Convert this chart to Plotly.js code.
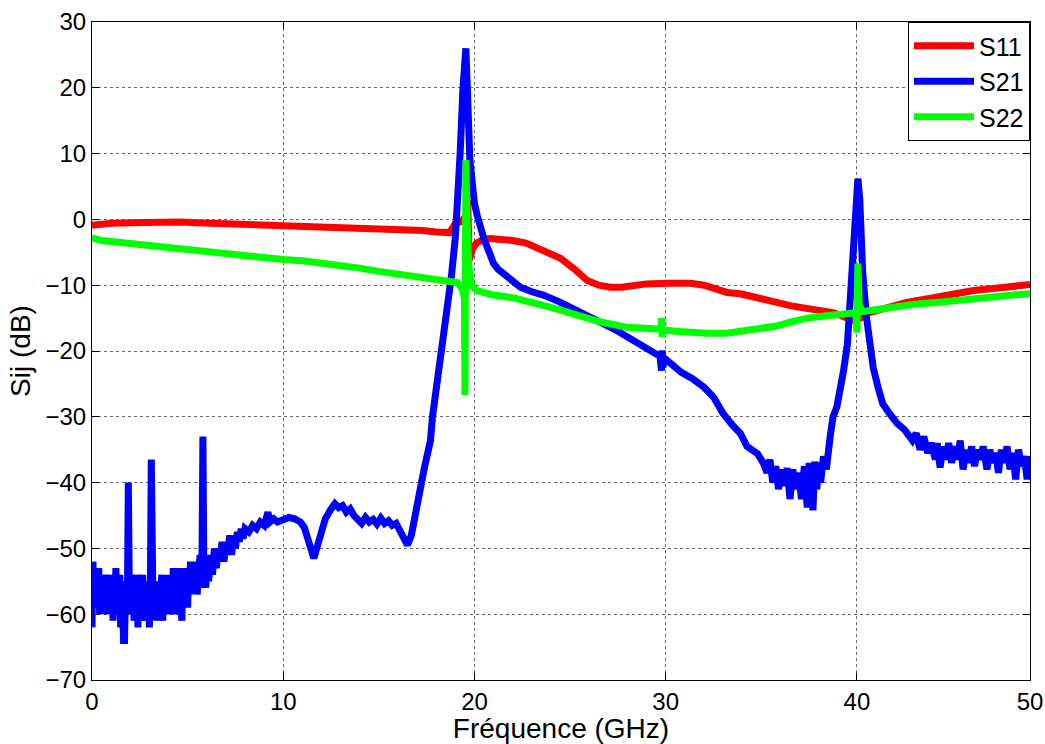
<!DOCTYPE html>
<html>
<head>
<meta charset="utf-8">
<script src="https://cdn.plot.ly/plotly-3.0.1.min.js"></script>
<style>html,body{margin:0;padding:0;background:#fff;}#chart{width:1045px;height:744px;}</style>
</head>
<body>
<div id="chart"></div>
<script>
// Frequencies (GHz) and magnitudes (dB)
const freqS11 = [0,0.5,1,2,3,4,4.6,5.5,6.5,7.5,8.5,10,11,12,13,14,15,16,17.3,18,18.7,19.0,19.3,19.55,19.65,19.72,19.9,20.1,20.5,20.8,21.5,22,22.7,23.5,24.5,25.2,25.9,26.5,27.1,27.7,28.3,29,30.1,31.3,32,33.2,33.9,35,35.8,36.5,37.2,38.1,38.8,39.5,39.9,40.2,40.5,41.5,42.6,44,45,46.1,47.5,48.5,49.05];
const s11 = [-0.9,-0.7,-0.6,-0.5,-0.4,-0.4,-0.4,-0.5,-0.6,-0.7,-0.8,-0.8,-0.9,-1.0,-1.2,-1.3,-1.4,-1.5,-1.7,-1.9,-2.0,-0.6,-0.3,0.5,2.9,-6.2,-4.5,-3.6,-3.0,-2.9,-3.0,-3.2,-3.6,-4.5,-5.9,-7.5,-9.3,-10.0,-10.3,-10.3,-10.0,-9.8,-9.7,-9.7,-10.0,-11.1,-11.3,-12.2,-12.6,-13.1,-13.4,-13.8,-14.2,-15.0,-15.4,-15.0,-14.3,-13.5,-12.6,-11.9,-11.3,-10.8,-10.4,-10.1,-9.9];

const freqS21 = [0,0.05,0.1,0.15,0.2,0.25,0.3,0.35,0.4,0.45,0.5,0.55,0.6,0.65,0.7,0.75,0.8,0.85,0.9,0.95,1.0,1.05,1.1,1.15,1.2,1.25,1.3,1.35,1.4,1.45,1.5,1.55,1.6,1.65,1.7,1.75,1.8,1.85,1.9,1.95,2.0,2.05,2.1,2.15,2.2,2.25,2.3,2.35,2.4,2.45,2.5,2.55,2.6,2.65,2.7,2.75,2.8,2.85,2.9,2.95,3.0,3.05,3.1,3.15,3.2,3.25,3.3,3.35,3.4,3.45,3.5,3.55,3.6,3.65,3.7,3.75,3.8,3.85,3.9,3.95,4.0,4.05,4.1,4.15,4.2,4.25,4.3,4.35,4.4,4.45,4.5,4.55,4.6,4.65,4.7,4.75,4.8,4.85,4.9,4.95,5.0,5.05,5.1,5.15,5.2,5.25,5.3,5.35,5.4,5.45,5.5,5.55,5.6,5.65,5.7,5.75,5.8,5.85,5.9,5.95,6.0,6.1,6.2,6.3,6.4,6.5,6.6,6.7,6.8,6.9,7.0,7.1,7.2,7.3,7.4,7.5,7.6,7.7,7.8,7.9,8.0,8.2,8.4,8.6,8.8,9.0,9.2,9.3,9.5,9.7,10.0,10.3,10.6,10.9,11.1,11.3,11.5,11.6,11.8,12.0,12.2,12.5,12.7,12.9,13.1,13.3,13.5,13.7,13.9,14.1,14.3,14.5,14.7,14.9,15.1,15.3,15.5,15.7,15.9,16.1,16.3,16.5,16.7,16.9,17.15,17.4,17.7,17.8,18.0,18.2,18.4,18.55,18.8,19.0,19.15,19.25,19.4,19.5,19.55,19.6,19.65,19.7,19.76,19.85,19.92,20.0,20.15,20.3,20.5,20.8,21.0,21.25,21.5,21.85,22.4,23.0,23.6,24.5,25.4,26.0,26.7,27.5,28.3,28.65,29.2,29.7,29.78,29.82,29.86,29.9,30.3,30.8,31.4,32.0,32.5,33.0,33.5,33.9,34.25,34.8,35.1,35.3,35.45,35.6,35.75,35.9,36.05,36.2,36.35,36.5,36.65,36.8,36.95,37.1,37.25,37.4,37.5,37.6,37.7,37.8,37.9,38.0,38.1,38.25,38.4,38.6,38.75,38.95,39.15,39.3,39.5,39.7,39.9,40.0,40.05,40.15,40.3,40.5,40.85,41.1,41.35,41.7,42.1,42.5,42.9,43.1,43.3,43.5,43.7,43.9,44.1,44.2,44.35,44.5,44.65,44.8,44.95,45.1,45.25,45.4,45.55,45.7,45.85,46.0,46.15,46.3,46.45,46.6,46.8,46.95,47.1,47.25,47.4,47.55,47.7,47.85,48.0,48.15,48.3,48.45,48.6,48.75,48.9,49.05];
const s21 = [-62,-52,-58,-53,-59,-54,-57,-53,-60,-55,-58,-54,-60,-55,-59,-54,-58,-55,-60,-54,-59,-55,-61,-54,-58,-53,-60,-55,-59,-54,-62,-55,-58,-64,-64,-57,-55,-58,-40,-56,-59,-55,-60,-54,-61,-56,-59,-54,-62,-55,-60,-56,-58,-54,-61,-56,-59,-55,-60,-55,-62,-57,-36.5,-58,-61,-55,-60,-56,-59,-55,-61,-56,-58,-54,-61,-55,-59,-56,-60,-54,-58,-55,-60,-54,-58,-53,-59,-55,-60,-54,-57,-53,-58,-55,-61,-54,-58,-53,-57,-54,-59,-53,-56,-52,-57,-53,-55,-52,-56,-53,-57,-52,-55,-51,-56,-52,-33,-55,-51,-56,-52,-55,-51,-54,-50,-53,-50,-52,-49,-52,-49,-51,-48,-51,-48,-50,-47.5,-49,-47,-48.5,-47,-47.5,-46.5,-47,-46,-46.5,-44.5,-46,-45.5,-46,-45.5,-45.3,-45.5,-46,-46.8,-48.5,-51,-51.5,-49.5,-47.5,-45.5,-44,-43.2,-43.8,-43.5,-44.5,-44,-45,-45.5,-46.2,-45.3,-46,-45.6,-46.3,-45.4,-46.2,-45.8,-46.5,-46.2,-47.5,-48.5,-49.5,-48,-45.5,-41.2,-37.5,-33.6,-30.1,-26,-22,-18.5,-15.3,-8.5,-2.7,3,10,20,25.5,26,22,16,12,9,6.5,4.3,2.4,0.5,-1.2,-3,-5.2,-6.7,-7.6,-8.2,-9.3,-10.3,-11.0,-11.5,-12.6,-13.8,-14.6,-15.8,-17.0,-18.4,-19.2,-20.2,-20.8,-23,-19.9,-22.5,-21.0,-22.0,-23.2,-24.2,-25.5,-27,-29.5,-31.3,-32.5,-34.5,-35.6,-37,-38.5,-36.5,-40,-37.5,-41,-38,-40.5,-37.8,-42.5,-38,-41,-38.5,-42.5,-37.5,-43.8,-37,-42,-44.2,-36.8,-41,-37,-40,-36,-38,-33,-30,-28.5,-26,-23,-19,-11,-2,4,6.2,3,-8,-14.9,-22.5,-25.5,-28,-29.5,-31,-32,-33.6,-32.5,-35,-33,-35.5,-34,-36.5,-34,-37.7,-34.5,-36.5,-34,-37,-34.5,-36.5,-33.6,-38,-35,-37,-34.5,-37.5,-35,-36.5,-34.5,-38,-35,-37,-35.5,-38.5,-35,-37,-34.5,-38,-35.5,-39.5,-35,-37.5,-36,-39.5,-36];

const freqS22 = [0,0.5,1.5,3,4.5,6,7.5,9,10,11,12,13,14,15,16,17.3,18,18.7,19.1,19.35,19.48,19.5,19.55,19.62,19.7,19.85,20.1,21,22,22.7,23.5,24.5,25.5,26.6,28,29,29.75,29.78,29.82,29.86,30.5,31.4,32.2,33.2,34,34.8,35.8,36.5,37.4,38.5,39.5,39.95,40.0,40.05,40.12,40.3,40.8,42,43,44.3,45.5,46.5,47.5,48.5,49.05];
const s22 = [-2.8,-3.2,-3.5,-4.0,-4.5,-5.0,-5.4,-5.8,-6.1,-6.3,-6.6,-7.0,-7.4,-7.9,-8.3,-8.7,-9.0,-9.3,-9.6,-10.5,-12,-26.7,9.0,-1,-7,-10,-10.8,-11.5,-11.9,-12.3,-13.0,-13.8,-14.6,-15.6,-16.4,-16.6,-16.7,-15.0,-17.9,-16.8,-17.0,-17.2,-17.3,-17.3,-17.0,-16.6,-16.2,-15.6,-15.0,-14.6,-14.3,-14.2,-17.2,-6.7,-13.0,-14.0,-13.8,-13.2,-12.9,-12.6,-12.2,-11.9,-11.6,-11.4,-11.3];

const seriesNames = ['S11','S21','S22'];
const seriesColors = ['#ff0000','#0000ff','#00ff00'];
const xTickVals = [0,10,20,30,40,49.05];
const xTickText = ['0','10','20','30','40','50'];

const lineW = 7;
const traces = [
  {x: freqS11, y: s11, name: seriesNames[0]},
  {x: freqS21, y: s21, name: seriesNames[1]},
  {x: freqS22, y: s22, name: seriesNames[2]}
].map((t,i)=>Object.assign(t,{type:'scatter',mode:'lines',line:{color:seriesColors[i],width:lineW,shape:'linear'}}));

const font = {family:'"Liberation Sans", Arial, sans-serif', color:'#000'};
const layout = {
  width:1045, height:744,
  margin:{l:92, r:15, t:22, b:64},
  paper_bgcolor:'#fff', plot_bgcolor:'#fff',
  font: Object.assign({size:24}, font),
  showlegend:true,
  legend:{x:1, xanchor:'right', y:1, yanchor:'top', bgcolor:'#fff', bordercolor:'#000', borderwidth:1,
          font:Object.assign({size:25}, font), itemwidth:60, tracegroupgap:0},
  xaxis:{range:[0,49.05], tickvals:xTickVals, ticktext:xTickText, showgrid:true, gridcolor:'rgba(0,0,0,0.6)', griddash:'dot', gridwidth:1,
         showline:true, linecolor:'#000', linewidth:1, mirror:'ticks', ticks:'inside', ticklen:7, tickcolor:'#000',
         zeroline:false, tickfont:Object.assign({size:24}, font),
         title:{text:'Fréquence (GHz)', font:Object.assign({size:28}, font), standoff:4}},
  yaxis:{range:[-70,30], dtick:10, tick0:0, showgrid:true, gridcolor:'rgba(0,0,0,0.6)', griddash:'dot', gridwidth:1,
         showline:true, linecolor:'#000', linewidth:1, mirror:'ticks', ticks:'inside', ticklen:7, tickcolor:'#000',
         zeroline:false, tickfont:Object.assign({size:24}, font),
         title:{text:'Sij (dB)', font:Object.assign({size:28}, font), standoff:6}}
};
Plotly.newPlot('chart', traces, layout, {displayModeBar:false, staticPlot:true});
</script>
</body>
</html>
